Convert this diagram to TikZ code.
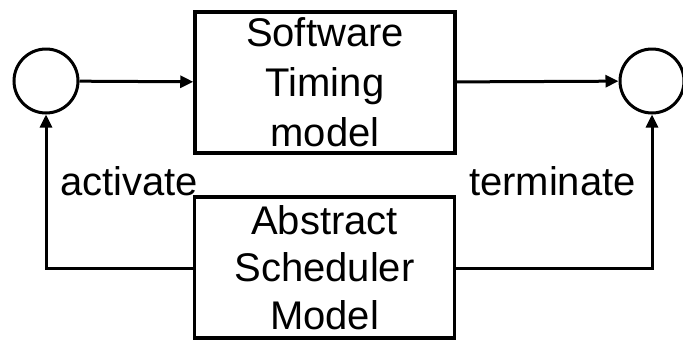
\documentclass[tikz,border=0pt]{standalone}
\usepackage{fontspec}
\setmainfont{Liberation Sans}
\usetikzlibrary{arrows.meta}
\begin{document}
\begin{tikzpicture}[x=1pt,y=-1pt,
  modelbox/.style={draw,line width=3.5pt,inner sep=0pt,align=center,
    minimum width=260pt,minimum height=141pt},
  state/.style={draw,circle,line width=3pt,minimum size=64pt,inner sep=0pt},
  flow/.style={line width=3pt,-{Triangle[length=13pt,width=12pt]}},
  lbl/.style={inner sep=0pt,font=\fontsize{40}{48}\selectfont}]
  \useasboundingbox (0,0) rectangle (683,341);
  % entry and exit states
  \node[state] (start) at (46,81) {};
  \node[state] (stop) at (652,81) {};
  % models
  \node[modelbox,font=\fontsize{40}{50}\selectfont] (swt) at (325,82.5)
    {Software\\Timing\\model};
  \node[modelbox,font=\fontsize{40}{47.5}\selectfont] (asm) at (324.5,267.5)
    {Abstract\\Scheduler\\Model};
  % control flow
  \draw[flow] (start) -- (swt);
  \draw[flow] (swt) -- (stop);
  \coordinate (al) at (46,268);
  \coordinate (ar) at (652,268);
  \draw[flow] (asm.west |- al) -- (al) -- (start);
  \draw[flow] (asm.east |- ar) -- (ar) -- (stop);
  % labels
  \node[lbl,anchor=base west] (act) at (60,195) {activate};
  \node[lbl,anchor=base east] (term) at (636,195) {terminate};
\end{tikzpicture}
\end{document}
